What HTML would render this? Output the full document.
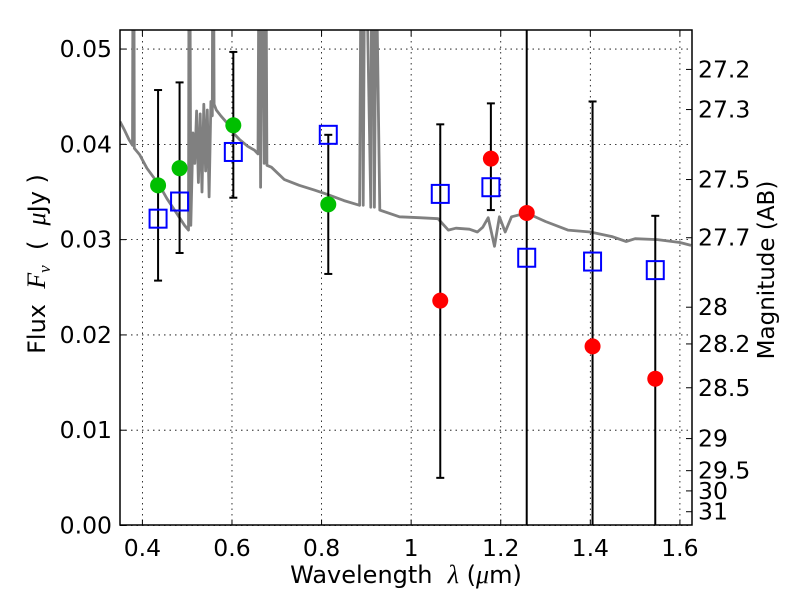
<!DOCTYPE html>
<html><head><meta charset="utf-8"><style>
body{margin:0;background:#fff;}
svg text{font-family:"DejaVu Sans","Liberation Sans",sans-serif;fill:#000;}
</style></head><body>
<svg id="chart" width="800" height="600" xmlns="http://www.w3.org/2000/svg">
<defs><clipPath id="pc"><rect x="120" y="30" width="572" height="495"/></clipPath></defs>
<rect x="0" y="0" width="800" height="600" fill="#fff"/>
<g id="grid"></g>
<g id="spec" clip-path="url(#pc)"></g>
<g id="err" clip-path="url(#pc)"></g>
<g id="pts" clip-path="url(#pc)"></g>
<rect x="120" y="30" width="572" height="495" fill="none" stroke="#000" stroke-width="1.5"/>
<g id="axes"></g>
<text x="406" y="583" font-size="24" text-anchor="middle" xml:space="preserve">Wavelength  <tspan font-style="italic" font-family="Liberation Serif,serif" font-size="26">λ</tspan> (<tspan font-style="italic" font-family="Liberation Serif,serif" font-size="26">μ</tspan>m)</text>
<text transform="translate(45,264) rotate(-90)" font-size="24" text-anchor="middle" xml:space="preserve">Flux  <tspan font-style="italic" font-family="Liberation Serif,serif" font-size="26">F<tspan font-size="17" dy="5">ν</tspan></tspan><tspan dy="-5">  (  </tspan><tspan font-style="italic" font-family="Liberation Serif,serif" font-size="26">μ</tspan>Jy )</text>
<text transform="translate(774,270) rotate(-90)" font-size="23" text-anchor="middle">Magnitude (AB)</text>
</svg>
<script>
const xTicks=[0.4,0.6,0.8,1.0,1.2,1.4,1.6];
const xTickLabels=["0.4","0.6","0.8","1","1.2","1.4","1.6"];
const yTicks=[0,0.01,0.02,0.03,0.04,0.05];
const yTickLabels=["0.00","0.01","0.02","0.03","0.04","0.05"];
const magTicks=[27.2,27.3,27.5,27.7,28,28.2,28.5,29,29.5,30,31];
const specWave=[0.35,0.36,0.37,0.378,0.379,0.381,0.382,0.394,0.41,0.438,0.455,0.472,0.494,0.503,0.504,0.506,0.508,0.513,0.517,0.521,0.525,0.529,0.533,0.537,0.541,0.545,0.549,0.553,0.556,0.557,0.559,0.56,0.565,0.575,0.59,0.601,0.617,0.635,0.65,0.658,0.66,0.662,0.664,0.666,0.668,0.672,0.674,0.676,0.678,0.688,0.717,0.75,0.784,0.81,0.85,0.885,0.888,0.89,0.893,0.896,0.9,0.91,0.912,0.915,0.918,0.922,0.93,0.974,1.018,1.06,1.083,1.1,1.13,1.148,1.16,1.172,1.186,1.197,1.21,1.224,1.258,1.3,1.35,1.4,1.45,1.48,1.5,1.55,1.6,1.625];
const specFlux=[0.0424,0.0415,0.0405,0.0399,0.06,0.06,0.0396,0.0389,0.0375,0.0357,0.0343,0.0331,0.0315,0.031,0.06,0.06,0.0315,0.0412,0.038,0.0435,0.036,0.0432,0.035,0.0442,0.0372,0.0436,0.0345,0.0445,0.043,0.06,0.06,0.0442,0.0436,0.043,0.0422,0.0413,0.0405,0.0398,0.0394,0.039,0.06,0.06,0.0355,0.06,0.06,0.038,0.06,0.06,0.0378,0.0376,0.0363,0.0357,0.0352,0.0348,0.0341,0.0336,0.06,0.06,0.0336,0.06,0.06,0.0334,0.06,0.06,0.0334,0.06,0.0331,0.0324,0.0323,0.0322,0.031,0.0312,0.0311,0.0308,0.0313,0.0323,0.0293,0.0324,0.0308,0.0324,0.0328,0.0319,0.031,0.0308,0.0303,0.0298,0.0301,0.030,0.0297,0.0294];
const bandWave=[0.435,0.483,0.603,0.815,1.065,1.178,1.258,1.405,1.545];
const errLo=[0.0257,0.0286,0.0344,0.0264,0.0050,0.0331,-0.01,-0.01,-0.01];
const errHi=[0.0457,0.0465,0.0497,0.0410,0.0421,0.0443,0.06,0.0445,0.0325];
const obsFlux=[0.0357,0.0375,0.0420,0.0337,0.0236,0.0385,0.0328,0.0188,0.0154];
const obsColor=["#00bf00","#00bf00","#00bf00","#00bf00","#ff0000","#ff0000","#ff0000","#ff0000","#ff0000"];
const modelFlux=[0.0322,0.0340,0.0392,0.0410,0.0348,0.0355,0.0281,0.0277,0.0268];

const NS="http://www.w3.org/2000/svg";
const X0=120,X1=692,Y0=525.5,Y1=30,xmin=0.35,xmax=1.627,ymin=0,ymax=0.052;
function sx(v){return X0+(v-xmin)/(xmax-xmin)*(X1-X0);}
function sy(v){return Y0-(v-ymin)/(ymax-ymin)*(Y0-Y1);}
function mk(tag,attrs,parent){const e=document.createElementNS(NS,tag);for(const k in attrs)e.setAttribute(k,attrs[k]);parent.appendChild(e);return e;}
const grid=document.getElementById('grid'),axes=document.getElementById('axes');
xTicks.forEach((t,i)=>{const x=sx(t);
 const g=mk('line',{x1:x,x2:x,y1:Y1,y2:Y0,stroke:'#000','stroke-width':0.8,'stroke-dasharray':'1.5,4'},grid);
 
 
 mk('line',{x1:x,x2:x,y1:Y0,y2:Y0-6,stroke:'#000'},axes);
 mk('line',{x1:x,x2:x,y1:Y1,y2:Y1+6,stroke:'#000'},axes);
 const tx=mk('text',{x:x,y:556,'font-size':23.5,'text-anchor':'middle'},axes);tx.textContent=xTickLabels[i];
 
 
});
yTicks.forEach((t,i)=>{const y=sy(t);
 const g=mk('line',{x1:X0,x2:X1,y1:y,y2:y,stroke:'#000','stroke-width':0.8,'stroke-dasharray':'1.5,4'},grid);
 
 
 mk('line',{x1:X0,x2:X0+6,y1:y,y2:y,stroke:'#000'},axes);
 const tx=mk('text',{x:112,y:y+8,'font-size':23.5,'text-anchor':'end'},axes);tx.textContent=yTickLabels[i];
 
 
});
magTicks.forEach(m=>{const y=sy(Math.pow(10,(23.9-m)/2.5));
 mk('line',{x1:X1-6,x2:X1,y1:y,y2:y,stroke:'#000'},axes);
 const tx=mk('text',{x:698,y:y+8,'font-size':23.5},axes);tx.textContent=String(m);
 
 
});
let d='';specWave.forEach((w,i)=>{d+=(i?'L':'M')+sx(w).toFixed(1)+','+sy(specFlux[i]).toFixed(1);});
const sp=mk('path',{d:d,fill:'none',stroke:'#808080','stroke-width':2.8,'stroke-linejoin':'round'},document.getElementById('spec'));


const err=document.getElementById('err'),pts=document.getElementById('pts');
bandWave.forEach((w,i)=>{const x=sx(w),a=sy(errLo[i]),b=sy(errHi[i]);
 const l=mk('line',{x1:x,x2:x,y1:a,y2:b,stroke:'#000','stroke-width':2},err);
 
 
 mk('line',{x1:x-4,x2:x+4,y1:a,y2:a,stroke:'#000','stroke-width':2},err);
 mk('line',{x1:x-4,x2:x+4,y1:b,y2:b,stroke:'#000','stroke-width':2},err);
});
bandWave.forEach((w,i)=>{
 const c=mk('circle',{cx:sx(w),cy:sy(obsFlux[i]),r:8,fill:obsColor[i]},pts);
 
 
});
bandWave.forEach((w,i)=>{
 const r=mk('rect',{x:sx(w)-8.5,y:sy(modelFlux[i])-9,width:17,height:18,fill:'none',stroke:'#0000ff','stroke-width':2},pts);
 
 
});
</script>
</body></html>
